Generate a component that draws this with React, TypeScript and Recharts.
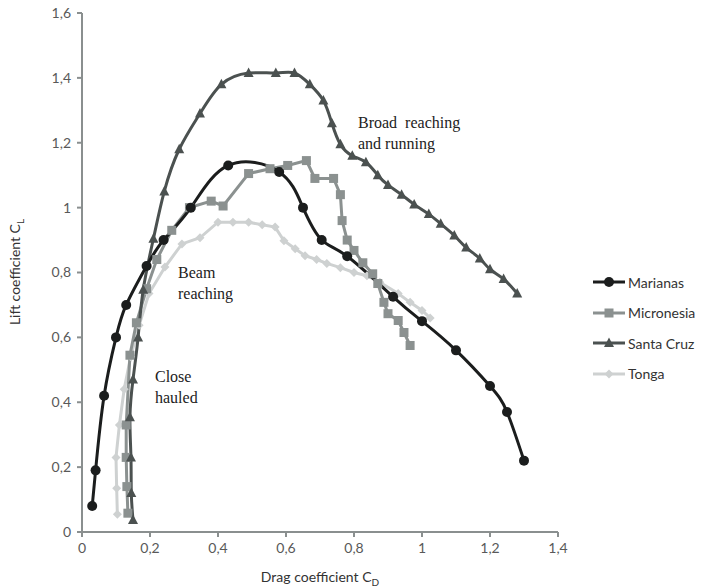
import { LineChart, Line, XAxis, YAxis, Label } from 'recharts';

const marianasX = [0.03, 0.04, 0.065, 0.1, 0.13, 0.19, 0.24, 0.32, 0.43, 0.58, 0.65, 0.705, 0.78, 0.915, 1.0, 1.1, 1.2, 1.25, 1.3];
const marianasY = [0.08, 0.19, 0.42, 0.6, 0.7, 0.82, 0.9, 1.0, 1.13, 1.11, 1.0, 0.9, 0.85, 0.725, 0.65, 0.56, 0.45, 0.37, 0.22];

const micronesiaX = [0.135, 0.132, 0.13, 0.13, 0.141, 0.16, 0.19, 0.22, 0.264, 0.316, 0.38, 0.415, 0.49, 0.553, 0.605, 0.66, 0.685, 0.74, 0.76, 0.765, 0.78, 0.8, 0.826, 0.855, 0.87, 0.888, 0.9, 0.93, 0.947, 0.965];
const micronesiaY = [0.058, 0.14, 0.23, 0.33, 0.545, 0.645, 0.75, 0.84, 0.93, 1.0, 1.02, 1.005, 1.105, 1.12, 1.13, 1.145, 1.09, 1.09, 1.04, 0.96, 0.9, 0.868, 0.83, 0.796, 0.766, 0.708, 0.673, 0.652, 0.615, 0.575];

const santaCruzX = [0.15, 0.145, 0.144, 0.141, 0.15, 0.165, 0.18, 0.21, 0.242, 0.286, 0.347, 0.41, 0.49, 0.57, 0.625, 0.67, 0.71, 0.735, 0.76, 0.795, 0.835, 0.87, 0.9, 0.94, 0.977, 1.02, 1.055, 1.095, 1.13, 1.17, 1.2, 1.24, 1.28];
const santaCruzY = [0.037, 0.12, 0.23, 0.354, 0.47, 0.6, 0.747, 0.904, 1.05, 1.18, 1.29, 1.38, 1.415, 1.415, 1.415, 1.38, 1.33, 1.26, 1.195, 1.16, 1.14, 1.1, 1.07, 1.04, 1.01, 0.98, 0.95, 0.914, 0.877, 0.843, 0.81, 0.78, 0.735];

const tongaX = [0.104, 0.102, 0.1, 0.11, 0.124, 0.143, 0.168, 0.197, 0.244, 0.294, 0.347, 0.4, 0.444, 0.49, 0.53, 0.568, 0.594, 0.627, 0.656, 0.69, 0.72, 0.76, 0.8, 0.838, 0.876, 0.93, 0.965, 1.0, 1.024];
const tongaY = [0.055, 0.135, 0.23, 0.33, 0.44, 0.54, 0.637, 0.735, 0.817, 0.888, 0.907, 0.955, 0.955, 0.955, 0.947, 0.94, 0.898, 0.873, 0.852, 0.84, 0.828, 0.815, 0.8, 0.79, 0.77, 0.735, 0.708, 0.683, 0.66];

const xTicks = [0, 0.2, 0.4, 0.6, 0.8, 1, 1.2, 1.4];
const yTicks = [0, 0.2, 0.4, 0.6, 0.8, 1, 1.2, 1.4, 1.6];

const toPoints = (xs: number[], ys: number[]) => xs.map((x, i) => ({ x, y: ys[i] }));

const fmt = (v: number) => String(Math.round(v * 10) / 10).replace('.', ',');

const AXIS = '#8a8f8f';
const TICK_TEXT = { fontFamily: 'Lato', fontSize: 14, fill: '#595959' };

type Shape = 'circle' | 'square' | 'triangle' | 'diamond';

function marker(shape: Shape, cx: number, cy: number, color: string, key?: string) {
    if (shape === 'circle') return <circle key={key} cx={cx} cy={cy} r={5} fill={color} />;
    if (shape === 'square') return <rect key={key} x={cx - 4.5} y={cy - 4.5} width={9} height={9} fill={color} />;
    if (shape === 'triangle')
        return <polygon key={key} points={`${cx},${cy - 5.5} ${cx + 5},${cy + 4} ${cx - 5},${cy + 4}`} fill={color} />;
    return <polygon key={key} points={`${cx},${cy - 4.5} ${cx + 4.5},${cy} ${cx},${cy + 4.5} ${cx - 4.5},${cy}`} fill={color} />;
}

const series = [
    { name: 'Marianas', data: toPoints(marianasX, marianasY), color: '#1b1d1d', shape: 'circle' as Shape, curve: 'natural' },
    { name: 'Micronesia', data: toPoints(micronesiaX, micronesiaY), color: '#8b9190', shape: 'square' as Shape, curve: 'linear' },
    { name: 'Santa Cruz', data: toPoints(santaCruzX, santaCruzY), color: '#4b5150', shape: 'triangle' as Shape, curve: 'natural' },
    { name: 'Tonga', data: toPoints(tongaX, tongaY), color: '#ced1d1', shape: 'diamond' as Shape, curve: 'linear' },
];

const drawOrder = [series[3], series[1], series[2], series[0]];

const note = { position: 'absolute' as const, fontFamily: '"Liberation Serif", serif', fontSize: 16, color: '#222', lineHeight: '21px' };

export default function App() {
    return (
        <div style={{ position: 'absolute', left: 0, top: 0, width: 704, height: 587, background: '#fff' }}>
            <LineChart width={704} height={587} margin={{ top: 13, right: 146, bottom: 10, left: 22 }}>
                <XAxis
                    type="number"
                    dataKey="x"
                    domain={[0, 1.4]}
                    ticks={xTicks}
                    tickFormatter={fmt}
                    stroke={AXIS}
                    strokeWidth={2}
                    tickSize={5}
                    tick={{ ...TICK_TEXT, dy: 4 }}
                    height={45}
                    allowDataOverflow
                >
                    <Label
                        content={() => (
                            <text x={320} y={582} textAnchor="middle" fontFamily="Lato" fontSize={14} fill="#333">
                                Drag coefficient C<tspan fontSize={10} dy={4}>D</tspan>
                            </text>
                        )}
                    />
                </XAxis>
                <YAxis
                    type="number"
                    dataKey="y"
                    domain={[0, 1.6]}
                    ticks={yTicks}
                    tickFormatter={fmt}
                    stroke={AXIS}
                    strokeWidth={2}
                    tickSize={5}
                    tick={{ ...TICK_TEXT, dx: -4 }}
                    width={60}
                    allowDataOverflow
                >
                    <Label
                        content={() => (
                            <text
                                x={20}
                                y={272}
                                textAnchor="middle"
                                transform="rotate(-90 20 272)"
                                fontFamily="Lato"
                                fontSize={14}
                                fill="#333"
                            >
                                Lift coefficient C<tspan fontSize={10} dy={4}>L</tspan>
                            </text>
                        )}
                    />
                </YAxis>
                {drawOrder.map((s) => (
                    <Line
                        key={s.name}
                        data={s.data}
                        dataKey="y"
                        name={s.name}
                        type={s.curve as 'natural' | 'linear'}
                        stroke={s.color}
                        strokeWidth={3}
                        isAnimationActive={false}
                        dot={(p: { cx: number; cy: number; index: number }) =>
                            marker(s.shape, p.cx, p.cy, s.color, `${s.name}-${p.index}`)
                        }
                        activeDot={false}
                    />
                ))}
            </LineChart>
            <div style={{ ...note, left: 358, top: 112 }}>
                Broad&nbsp; reaching
                <br />
                and running
            </div>
            <div style={{ ...note, left: 178, top: 262 }}>
                Beam
                <br />
                reaching
            </div>
            <div style={{ ...note, left: 155, top: 366 }}>
                Close
                <br />
                hauled
            </div>
            <div style={{ position: 'absolute', left: 592, top: 267 }}>
                {series.map((s) => (
                    <div key={s.name} style={{ display: 'flex', alignItems: 'center', height: 30.5 }}>
                        <svg width={34} height={14}>
                            <line x1={1} y1={7} x2={33} y2={7} stroke={s.color} strokeWidth={3} />
                            {marker(s.shape, 17, 7, s.color)}
                        </svg>
                        <span style={{ fontFamily: 'Lato', fontSize: 14, color: '#333', marginLeft: 2 }}>{s.name}</span>
                    </div>
                ))}
            </div>
        </div>
    );
}
